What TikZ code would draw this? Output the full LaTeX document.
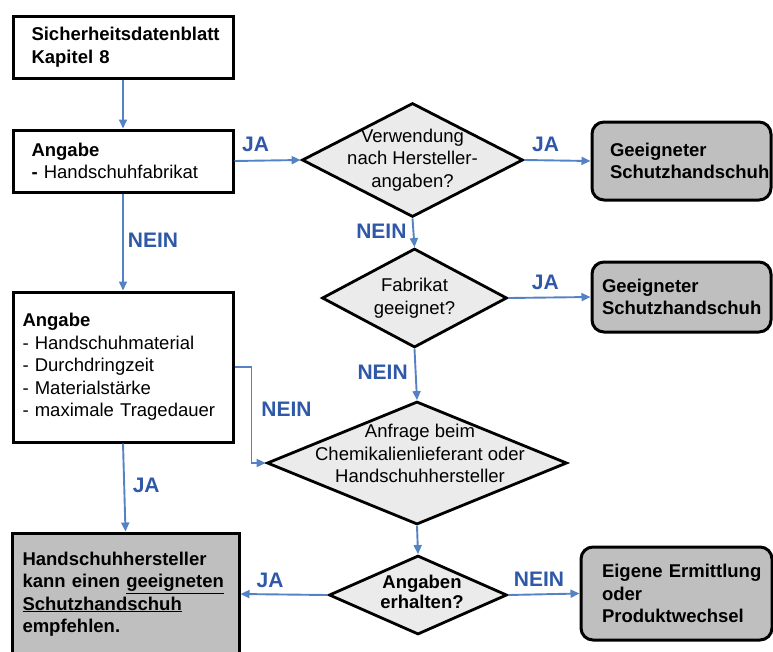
\documentclass[tikz,border=0pt]{standalone}
\usepackage{fontspec}
\setmainfont{Liberation Sans}
\usepackage{tikz}
\usetikzlibrary{shapes.geometric, arrows.meta}
\definecolor{pfeilblau}{RGB}{84,130,197}
\definecolor{textblau}{RGB}{47,89,168}
\definecolor{rautegrau}{RGB}{235,235,235}
\definecolor{boxgrau}{RGB}{191,191,191}
\newcommand{\normtext}{\fontsize{18.5pt}{22.5pt}\selectfont}
\hyphenpenalty=10000
\begin{document}
\begin{tikzpicture}[x=1pt, y=-1pt]
    \tikzstyle{kasten} = [rectangle, draw=black, line width=3pt, fill=white, align=left, font=\normtext, inner ysep=0pt]
    \tikzstyle{ergebnis} = [kasten, rounded corners=12pt, fill=boxgrau, font=\normtext\bfseries]
    \tikzstyle{raute} = [diamond, draw=black, line width=2.8pt, fill=rautegrau, inner sep=0pt]
    \tikzstyle{rautentext} = [align=center, font=\normtext, inner sep=0pt]
    \tikzstyle{arrow} = [line width=1.9pt, draw=pfeilblau, ->, >={Triangle[length=9pt, width=8pt]}]
    \tikzstyle{antwort} = [font=\fontsize{21pt}{25pt}\selectfont\bfseries, text=textblau, inner sep=0pt]
    \useasboundingbox (0,0) rectangle (773,651);
    % linke Spalte
    \node[kasten, text width=183pt, inner xsep=18.5pt, minimum height=62pt] (sdb) at (123,47) {\textbf{Sicherheitsdatenblatt}\\\textbf{Kapitel 8}};
    \node[kasten, text width=183pt, inner xsep=18.5pt, minimum height=62pt, node distance=114pt, below of=sdb] (fab) {\textbf{Angabe}\\\textbf{-} Handschuhfabrikat};
    \node[kasten, text width=201pt, inner xsep=9.5pt, minimum height=150pt, node distance=206pt, below of=fab] (mat) {\textbf{Angabe}\\- Handschuhmaterial\\- Durchdringzeit\\- Materialstärke\\- maximale Tragedauer};
    \node[kasten, fill=boxgrau, font=\normtext\bfseries, text width=206pt, inner xsep=10.5pt, minimum height=122pt, node distance=227pt, below of=mat, xshift=2.5pt] (empf) {Handschuhhersteller\\kann einen \underline{geeigneten}\\\underline{Schutzhandschuh}\\empfehlen.};
    % Entscheidungen
    \node[raute, minimum width=221pt, minimum height=114pt, node distance=289.5pt, right of=fab, yshift=1pt,
    label={[rautentext]center:{Verwendung\\nach Hersteller-\\angaben?}}] (verw) {};
    \node[raute, minimum width=185pt, minimum height=99pt, node distance=138pt, below of=verw, xshift=2pt,
    label={[rautentext]center:{Fabrikat\\geeignet?}}] (fabg) {};
    \node[raute, minimum width=300pt, minimum height=123pt, node distance=165pt, below of=fabg, xshift=2.5pt,
    label={[rautentext, xshift=3pt, yshift=9.5pt]center:{Anfrage beim\\Chemikalienlieferant oder\\Handschuhhersteller}}] (anf) {};
    \node[raute, minimum width=178pt, minimum height=79pt, node distance=132pt, below of=anf, xshift=1pt,
    label={[rautentext, font=\fontsize{18.5pt}{20.5pt}\selectfont\bfseries, xshift=4pt, yshift=3pt]center:{Angaben\\erhalten?}}] (erh) {};
    % Ergebnisse rechts
    \node[ergebnis, text width=143pt, inner xsep=18pt, minimum height=78pt, node distance=269pt, right of=verw, yshift=-1pt] (gee1) {Geeigneter\\Schutzhandschuh};
    \node[ergebnis, text width=159pt, inner xsep=10pt, minimum height=70pt, node distance=267pt, right of=fabg, yshift=1pt] (gee2) {Geeigneter\\Schutzhandschuh};
    \node[ergebnis, text width=149pt, inner xsep=21pt, minimum height=93pt, node distance=258.5pt, right of=erh, yshift=1.5pt] (eig) {\mbox{Eigene Ermittlung}\\oder\\Produktwechsel};
    % Pfeile
    \draw[arrow] (sdb) -- (fab);
    \draw[arrow] (fab.east) -- node[antwort, pos=0.32, yshift=16pt]{JA} (verw.west);
    \draw[arrow] (verw.east) -- node[antwort, pos=0.32, yshift=16pt]{JA} (gee1.west);
    \draw[arrow] (fab) -- node[antwort, pos=0.48, xshift=30pt]{NEIN} (mat);
    \draw[arrow] (verw.south) -- node[antwort, pos=0.44, xshift=-32pt]{NEIN} (fabg.north);
    \draw[arrow] (fabg.east) -- node[antwort, pos=0.45, yshift=15pt]{JA} (gee2.west);
    \draw[arrow] (fabg.south) -- node[antwort, pos=0.45, xshift=-33pt]{NEIN} (anf.north);
    \draw[arrow] (mat.east) -- ++(17,0) |- node[antwort, pos=0.22, xshift=35pt]{NEIN} (anf.west);
    \draw[arrow] (mat.south) -- node[antwort, pos=0.48, xshift=22pt]{JA} (empf.north);
    \draw[arrow] (anf.south) -- (erh.north);
    \draw[arrow] (erh.west) -- node[antwort, pos=0.66, yshift=14pt]{JA} (empf.east);
    \draw[arrow] (erh.east) -- node[antwort, pos=0.43, yshift=15pt]{NEIN} (eig.west);
\end{tikzpicture}
\end{document}
